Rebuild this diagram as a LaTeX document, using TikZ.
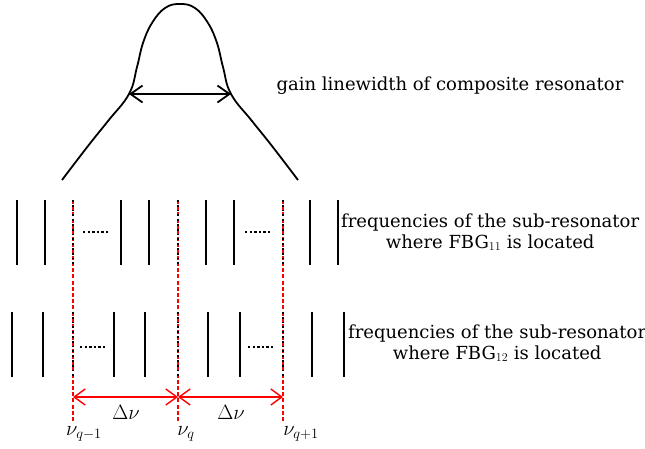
\documentclass[tikz,border=0pt]{standalone}
\usepackage{fontspec}
\setmainfont{DejaVu Serif}
\usetikzlibrary{arrows.meta,positioning}

\begin{document}
\begin{tikzpicture}[
    x=1pt, y=-1pt,
    lbl/.style={font=\fontsize{18}{21}\selectfont, align=center, inner sep=1pt},
    mathlbl/.style={font=\fontsize{22}{24}\selectfont, inner sep=1pt},
    bar/.style={line width=2.6pt, black},
    gapdots/.style={line width=2.4pt, black, dash pattern=on 2.4pt off 2.2pt},
    freqline/.style={red, dash pattern=on 4pt off 2.2pt, line width=1.4pt},
    overdots/.style={black, line width=1.8pt, dash pattern=on 1.8pt off 3pt},
    spacing/.style={{Straight Barb[length=11pt,width=16pt]}-{Straight Barb[length=11pt,width=16pt]}, red, line width=1.4pt},
    fwhm/.style={{Straight Barb[length=12pt,width=17pt]}-{Straight Barb[length=12pt,width=17pt]}, black, line width=1.8pt}
]
\useasboundingbox (0,0) rectangle (645,448);

% gain curve of the composite resonator
\draw[black, line width=1.8pt] plot[smooth, tension=0.7] coordinates {
    (62,180) (88,146) (108,121) (129,94) (137,67) (143,43) (152,23) (165,8) (180,4)
    (195,8) (208,23) (217,43) (223,67) (231,94) (252,121) (272,146) (298,180)};
\coordinate (wl) at (129,94);
\coordinate (wr) at (231,94);
\draw[fwhm] (wl) -- (wr);
\node[lbl] (gain) at (450,86) {gain linewidth of composite resonator};

% red reference lines
\foreach \x [count=\i] in {73,178,283} {
    \coordinate (top\i) at (\x,200);
    \coordinate (end\i) at (\x,421);
    \coordinate (arr\i) at (\x,397);
    \draw[freqline] (top\i) -- (end\i);
}

% sub-resonator FBG11
\foreach \x in {17,45,121,149,206,234,310,338}
    \draw[bar] (\x,200) -- (\x,265);
\foreach \x in {73,178,283}
    \draw[overdots] (\x,200) -- (\x,265);
\draw[gapdots] (83,232) -- (110,232);
\draw[gapdots] (245,232) -- (270,232);
\node[lbl, anchor=west] (fbg11) at (340,232)
    {frequencies of the sub-resonator\\ where FBG$_{11}$ is located};

% sub-resonator FBG12
\foreach \x in {12,43,114,145,208,240,312,344}
    \draw[bar] (\x,312) -- (\x,377);
\foreach \x in {73,178,283}
    \draw[overdots] (\x,312) -- (\x,377);
\draw[gapdots] (80,347) -- (107,347);
\draw[gapdots] (248,347) -- (275,347);
\node[lbl, anchor=west] (fbg12) at (347,343)
    {frequencies of the sub-resonator\\ where FBG$_{12}$ is located};

% mode spacing
\draw[spacing] (arr1) -- (arr2);
\draw[spacing] (arr2) -- (arr3);
\node[mathlbl] (dv1) at (126,412) {$\Delta\nu$};
\node[mathlbl] (dv2) at (231,412) {$\Delta\nu$};
\node[mathlbl] (nu1) at (84,434) {$\nu_{q-1}$};
\node[mathlbl] (nu2) at (186,434) {$\nu_{q}$};
\node[mathlbl] (nu3) at (301,434) {$\nu_{q+1}$};
\end{tikzpicture}
\end{document}
